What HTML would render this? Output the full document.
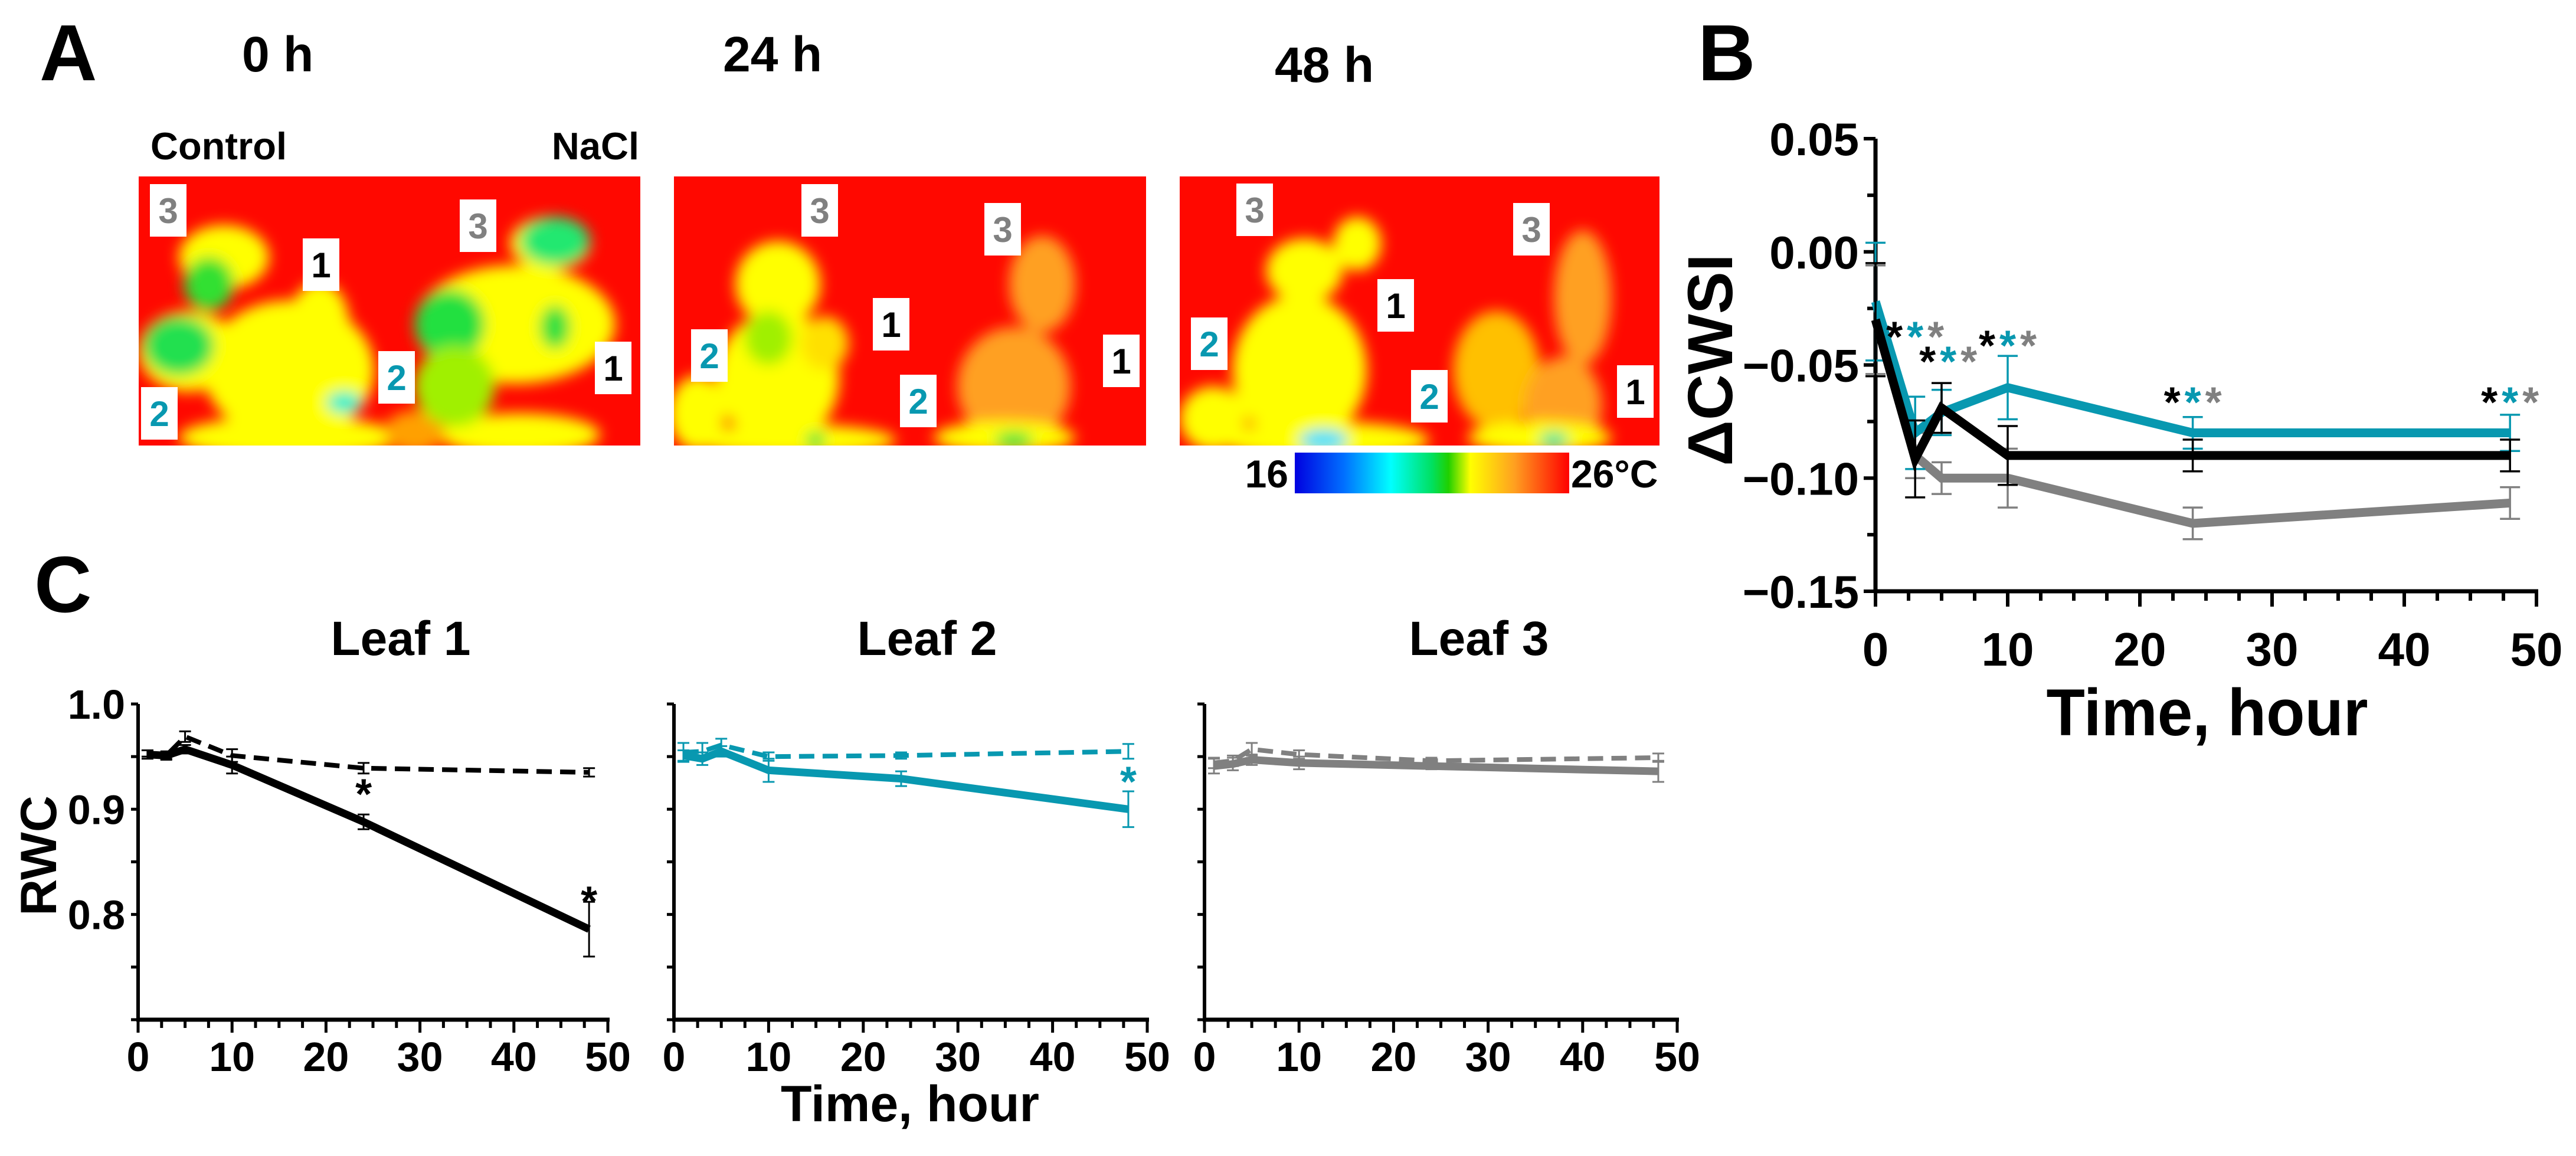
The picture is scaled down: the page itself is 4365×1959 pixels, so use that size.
<!DOCTYPE html>
<html><head><meta charset="utf-8">
<style>
html,body{margin:0;padding:0;background:#fff;}
svg{display:block;font-family:"Liberation Sans",Arial,sans-serif;font-weight:bold;}
</style></head>
<body>
<svg id="fig" width="4365" height="1959" viewBox="0 0 4365 1959" xmlns="http://www.w3.org/2000/svg">
<defs>
<filter id="bl" x="-50%" y="-50%" width="200%" height="200%"><feGaussianBlur stdDeviation="12"/></filter>
<linearGradient id="cbar" x1="0" x2="1" y1="0" y2="0">
<stop offset="0" stop-color="#0000e0"/><stop offset="0.18" stop-color="#0070ff"/><stop offset="0.35" stop-color="#00ffff"/><stop offset="0.5" stop-color="#00e060"/><stop offset="0.56" stop-color="#20d000"/><stop offset="0.64" stop-color="#ffff00"/><stop offset="0.8" stop-color="#ffa020"/><stop offset="1" stop-color="#ff0000"/>
</linearGradient>
<clipPath id="c1"><rect x="235" y="299" width="850" height="456"/></clipPath>
<clipPath id="c2"><rect x="1142" y="299" width="800" height="456"/></clipPath>
<clipPath id="c3"><rect x="1999" y="299" width="813" height="456"/></clipPath>
</defs>

<text x="67" y="136" font-size="135">A</text>
<text x="410" y="121" font-size="84">0 h</text>
<text x="1225" y="121" font-size="84">24 h</text>
<text x="2160" y="139" font-size="84">48 h</text>
<text x="255" y="270" font-size="65">Control</text>
<text x="1083" y="270" font-size="65" text-anchor="end">NaCl</text>

<g id="thermal"></g>

<rect x="2194" y="767" width="465" height="69" fill="url(#cbar)"/>
<text x="2183" y="826" font-size="66" text-anchor="end">16</text>
<text x="2662" y="826" font-size="66">26°C</text>

<text x="2877" y="136" font-size="135">B</text>
<g id="panelB"></g>

<text x="58" y="1037" font-size="135">C</text>
<g id="panelC"></g>
</svg>

<script>
// ---------- Panel B data ----------
const bTimes = [0, 3, 5, 10, 24, 48];
const bLeaf1 = [-0.030, -0.0915, -0.069, -0.090, -0.090, -0.090];
const bLeaf1Err = [0.025, 0.017, 0.011, 0.013, 0.007, 0.007];
const bLeaf2 = [-0.022, -0.080, -0.071, -0.060, -0.080, -0.080];
const bLeaf2Err = [0.026, 0.016, 0.010, 0.014, 0.007, 0.008];
const bLeaf3 = [-0.030, -0.090, -0.100, -0.100, -0.120, -0.111];
const bLeaf3Err = [0.024, 0.010, 0.007, 0.013, 0.007, 0.007];
const bYTicks = [0.05, 0.00, -0.05, -0.10, -0.15];
const bYTickLabels = ["0.05", "0.00", "\u22120.05", "\u22120.10", "\u22120.15"];
const bXTicks = [0, 10, 20, 30, 40, 50];
const bStarTimes = [3, 5.5, 10, 24, 48];
const bStarValues = [-0.033, -0.044, -0.037, -0.062, -0.062];

// ---------- Panel C data ----------
const cTimes = [1, 3, 5, 10, 24, 48];
const cLeaf1Nacl = [0.952, 0.951, 0.957, 0.942, 0.888, 0.786];
const cLeaf1NaclErr = [0.004, 0.004, 0.004, 0.008, 0.007, 0.026];
const cLeaf1Ctrl = [0.953, 0.951, 0.969, 0.951, 0.939, 0.935];
const cLeaf1CtrlErr = [0.003, 0.003, 0.005, 0.006, 0.005, 0.004];
const cLeaf2Nacl = [0.951, 0.948, 0.955, 0.937, 0.929, 0.900];
const cLeaf2NaclErr = [0.005, 0.006, 0.005, 0.011, 0.007, 0.017];
const cLeaf2Ctrl = [0.954, 0.955, 0.961, 0.950, 0.951, 0.955];
const cLeaf2CtrlErr = [0.009, 0.008, 0.006, 0.004, 0.003, 0.007];
const cLeaf3Nacl = [0.941, 0.943, 0.947, 0.944, 0.941, 0.936];
const cLeaf3NaclErr = [0.007, 0.006, 0.005, 0.006, 0.003, 0.010];
const cLeaf3Ctrl = [0.944, 0.946, 0.957, 0.952, 0.946, 0.949];
const cLeaf3CtrlErr = [0.005, 0.005, 0.006, 0.004, 0.003, 0.004];
const cYTicks = [1.0, 0.9, 0.8];
const cYTickLabels = ["1.0", "0.9", "0.8"];
const cXTicks = [0, 10, 20, 30, 40, 50];

const NS = "http://www.w3.org/2000/svg";
const TEAL = "#0898b0", GRAY = "#808080", BLACK = "#000";
function mk(tag, attrs, parent){
  const e = document.createElementNS(NS, tag);
  for (const k in attrs) e.setAttribute(k, attrs[k]);
  parent.appendChild(e);
  return e;
}

// ---------- thermal images ----------
const thermal = document.getElementById('thermal');
const panelsA = [
  {x:235,w:850,clip:'c1',blobs:[
    ['#ffff00',0.17,0.30,0.09,0.12],['#ffff00',0.30,0.72,0.17,0.26],['#ffff00',0.36,0.55,0.06,0.16],
    ['#ffff00',0.10,0.65,0.10,0.15],['#ffff00',0.75,0.55,0.20,0.22],['#ffff00',0.82,0.25,0.08,0.10],
    ['#ffff00',0.30,0.97,0.22,0.08],['#ffff00',0.76,0.96,0.16,0.08],['#ffa000',0.55,0.95,0.06,0.08],
    ['#30e030',0.14,0.40,0.05,0.10],['#20e050',0.08,0.63,0.07,0.11],['#20e040',0.62,0.55,0.07,0.13],
    ['#a0f000',0.63,0.78,0.08,0.15],['#20e870',0.83,0.24,0.07,0.09],['#30e040',0.83,0.56,0.03,0.08],
    ['#00f0d0',0.41,0.84,0.035,0.04]],
   labels:[[254,312,'3',GRAY],[513,404,'1',BLACK],[779,338,'3',GRAY],[641,595,'2',TEAL],[1008,579,'1',BLACK],[239,656,'2',TEAL]]},
  {x:1142,w:800,clip:'c2',blobs:[
    ['#ffff00',0.22,0.40,0.09,0.16],['#ffff00',0.22,0.75,0.13,0.25],['#ffff00',0.05,0.88,0.06,0.14],
    ['#ffe000',0.32,0.62,0.05,0.10],['#ffa020',0.78,0.40,0.07,0.18],['#ffa020',0.72,0.78,0.12,0.22],
    ['#ffff00',0.70,0.97,0.15,0.06],['#ffff00',0.25,0.98,0.22,0.06],['#a0f000',0.20,0.60,0.05,0.10],
    ['#20e040',0.72,0.98,0.04,0.03],['#20e040',0.30,0.98,0.02,0.03]],
   labels:[[1358,312,'3',GRAY],[1668,344,'3',GRAY],[1479,505,'1',BLACK],[1171,558,'2',TEAL],[1525,635,'2',TEAL],[1869,567,'1',BLACK]]},
  {x:1999,w:813,clip:'c3',blobs:[
    ['#ffff00',0.26,0.35,0.08,0.12],['#ffff00',0.25,0.72,0.14,0.28],['#ffff00',0.07,0.90,0.07,0.12],
    ['#ffff00',0.37,0.25,0.05,0.10],['#ffc000',0.66,0.72,0.09,0.22],['#ffa020',0.84,0.45,0.06,0.25],
    ['#ffa020',0.80,0.85,0.08,0.18],['#ffff00',0.30,0.98,0.22,0.07],['#ffff00',0.75,0.97,0.15,0.06],
    ['#40e0ff',0.30,0.98,0.05,0.04],['#20e0a0',0.78,0.98,0.03,0.03]],
   labels:[[2095,311,'3',GRAY],[2564,344,'3',GRAY],[2334,473,'1',BLACK],[2018,538,'2',TEAL],[2391,627,'2',TEAL],[2740,619,'1',BLACK]]}
];
panelsA.forEach((p, pi) => {
  const g = mk('g', {'clip-path':`url(#${p.clip})`}, thermal);
  
  
  mk('rect', {x:p.x, y:299, width:p.w, height:456, fill:'#ff0800'}, g);
  const bg = mk('g', {filter:'url(#bl)'}, g);
  p.blobs.forEach(b => {
    mk('ellipse', {cx:p.x + b[1]*p.w, cy:299 + b[2]*456, rx:b[3]*p.w, ry:b[4]*456, fill:b[0]}, bg);
  });
  p.labels.forEach(l => {
    const lb = mk('g', {}, thermal);
    
    
    mk('rect', {x:l[0], y:l[1], width:62, height:89, fill:'#fff'}, lb);
    const t = mk('text', {x:l[0]+31, y:l[1]+66, 'font-size':60, 'text-anchor':'middle', fill:l[3]}, lb);
    t.textContent = l[2];
  });
});

// ---------- Panel B ----------
(function(){
  const B = document.getElementById('panelB');
  const x0 = 3178, x1 = 4298, yTop = 235, yBot = 1002;
  const xs = t => x0 + (t/50)*(x1-x0);
  const ys = v => yTop + (0.05 - v)/0.20*(yBot-yTop);
  mk('line', {x1:x0, y1:yTop, x2:x0, y2:yBot+3, stroke:'#000','stroke-width':7}, B);
  mk('line', {x1:x0-3, y1:yBot, x2:x1+3, y2:yBot, stroke:'#000','stroke-width':7}, B);
  for (let k = 0; k <= 8; k++) {
    const v = 0.05 - k*0.025;
    const major = k % 2 === 0;
    mk('line', {x1:x0-(major?20:14), y1:ys(v), x2:x0, y2:ys(v), stroke:'#000','stroke-width':6}, B);
  }
  for (let t = 0; t <= 50; t += 2.5) {
    const major = t % 10 === 0;
    mk('line', {x1:xs(t), y1:yBot, x2:xs(t), y2:yBot+(major?26:16), stroke:'#000','stroke-width':6}, B);
  }
  bYTicks.forEach((v,i) => {
    const t = mk('text', {x:3150, y:ys(v)+28, 'font-size':78, 'text-anchor':'end'}, B);
    
    
    t.textContent = bYTickLabels[i];
  });
  bXTicks.forEach(v => {
    const t = mk('text', {x:xs(v), y:1128, 'font-size':80, 'text-anchor':'middle'}, B);
    
    
    t.textContent = v;
  });
  const xt = mk('text', {x:3740, y:1246, 'font-size':112, 'text-anchor':'middle', textLength:545, lengthAdjust:'spacingAndGlyphs'}, B);
  
  
  xt.textContent = 'Time, hour';
  const yt = mk('text', {x:0, y:0, 'font-size':108, 'text-anchor':'middle', transform:'translate(2935,610) rotate(-90)'}, B);
  
  
  yt.textContent = '\u0394CWSI';

  const series = [[bLeaf3,bLeaf3Err,GRAY,'leaf3'],[bLeaf2,bLeaf2Err,TEAL,'leaf2'],[bLeaf1,bLeaf1Err,BLACK,'leaf1']];
  series.forEach(s => {
    const g = mk('g', {}, B);
    
    
    bTimes.forEach((t,i) => {
      const x = xs(t), yh = ys(s[0][i]+s[1][i]), yl = ys(s[0][i]-s[1][i]);
      mk('line', {x1:x, y1:yh, x2:x, y2:yl, stroke:s[2], 'stroke-width':3.5}, g);
      mk('line', {x1:x-17, y1:yh, x2:x+17, y2:yh, stroke:s[2], 'stroke-width':3.5}, g);
      mk('line', {x1:x-17, y1:yl, x2:x+17, y2:yl, stroke:s[2], 'stroke-width':3.5}, g);
    });
    const pts = bTimes.map((t,i) => xs(t)+','+ys(s[0][i])).join(' ');
    const pl = mk('polyline', {points:pts, fill:'none', stroke:s[2], 'stroke-width':15, 'stroke-linejoin':'miter'}, g);
    
    
  });
  bStarTimes.forEach((t,i) => {
    const g = mk('g', {}, B);
    
    
    [BLACK, TEAL, GRAY].forEach((c,j) => {
      const s = mk('text', {x:xs(t) + (j-1)*35, y:ys(bStarValues[i])+42, 'font-size':72, 'text-anchor':'middle', fill:c}, g);
      s.textContent = '*';
    });
  });
})();

// ---------- Panel C ----------
(function(){
  const C = document.getElementById('panelC');
  const yTop = 1193, yBot = 1728;
  const ys = v => yTop + (1.0 - v)/0.3*(yBot-yTop);
  const panels = [
    {x0:234, x1:1030, title:'Leaf 1', tx:679, nacl:cLeaf1Nacl, naclE:cLeaf1NaclErr, ctrl:cLeaf1Ctrl, ctrlE:cLeaf1CtrlErr, col:BLACK, labels:true, stars:[[24,0.888,BLACK],[48,0.786,BLACK]]},
    {x0:1142, x1:1944, title:'Leaf 2', tx:1571, nacl:cLeaf2Nacl, naclE:cLeaf2NaclErr, ctrl:cLeaf2Ctrl, ctrlE:cLeaf2CtrlErr, col:TEAL, labels:false, stars:[[48,0.900,TEAL]]},
    {x0:2041, x1:2842, title:'Leaf 3', tx:2506, nacl:cLeaf3Nacl, naclE:cLeaf3NaclErr, ctrl:cLeaf3Ctrl, ctrlE:cLeaf3CtrlErr, col:GRAY, labels:false, stars:[]}
  ];
  panels.forEach((p, pi) => {
    const g = mk('g', {}, C);
    
    
    const xs = t => p.x0 + (t/50)*(p.x1-p.x0);
    const tt = mk('text', {x:p.tx, y:1110, 'font-size':82, 'text-anchor':'middle'}, g);
    
    
    tt.textContent = p.title;
    mk('line', {x1:p.x0, y1:yTop, x2:p.x0, y2:yBot+3, stroke:'#000','stroke-width':6}, g);
    mk('line', {x1:p.x0-3, y1:yBot, x2:p.x1+3, y2:yBot, stroke:'#000','stroke-width':7}, g);
    for (let k = 0; k <= 6; k++) {
      const v = 1.0 - k*0.05;
      mk('line', {x1:p.x0-12, y1:ys(v), x2:p.x0, y2:ys(v), stroke:'#000','stroke-width':5}, g);
    }
    for (let t = 0; t <= 50; t += 2.5) {
      const major = t % 10 === 0;
      mk('line', {x1:xs(t), y1:yBot, x2:xs(t), y2:yBot+(major?22:14), stroke:'#000','stroke-width':5}, g);
    }
    cXTicks.forEach(v => {
      const t = mk('text', {x:xs(v), y:1815, 'font-size':70, 'text-anchor':'middle'}, g);
      
      
      t.textContent = v;
    });
    if (p.labels) {
      cYTicks.forEach((v,i) => {
        const t = mk('text', {x:212, y:ys(v)+25, 'font-size':70, 'text-anchor':'end'}, g);
        
        
        t.textContent = cYTickLabels[i];
      });
    }
    const drawSeries = (vals, errs, dashed, nm) => {
      const sg = mk('g', {}, g);
      
      
      cTimes.forEach((t,i) => {
        const x = xs(t), yh = ys(vals[i]+errs[i]), yl = ys(vals[i]-errs[i]);
        mk('line', {x1:x, y1:yh, x2:x, y2:yl, stroke:p.col, 'stroke-width':3}, sg);
        mk('line', {x1:x-10, y1:yh, x2:x+10, y2:yh, stroke:p.col, 'stroke-width':3}, sg);
        mk('line', {x1:x-10, y1:yl, x2:x+10, y2:yl, stroke:p.col, 'stroke-width':3}, sg);
      });
      const pts = cTimes.map((t,i) => xs(t)+','+ys(vals[i])).join(' ');
      const a = {points:pts, fill:'none', stroke:p.col, 'stroke-width':dashed?8:13};
      if (dashed) a['stroke-dasharray'] = '26 14';
      mk('polyline', a, sg);
    };
    drawSeries(p.ctrl, p.ctrlE, true, 'control-line-leaf' + (pi+1));
    drawSeries(p.nacl, p.naclE, false, 'nacl-line-leaf' + (pi+1));
    p.stars.forEach(s => {
      const st = mk('text', {x:xs(s[0]), y:ys(s[1]) - 22, 'font-size':72, 'text-anchor':'middle', fill:s[2]}, g);
      
      
      st.textContent = '*';
    });
  });
  const yt = mk('text', {x:0, y:0, 'font-size':86, 'text-anchor':'middle', transform:'translate(95,1450) rotate(-90)'}, C);
  
  
  yt.textContent = 'RWC';
  const xt = mk('text', {x:1542, y:1900, 'font-size':86, 'text-anchor':'middle'}, C);
  
  
  xt.textContent = 'Time, hour';
})();
</script>
</body></html>
